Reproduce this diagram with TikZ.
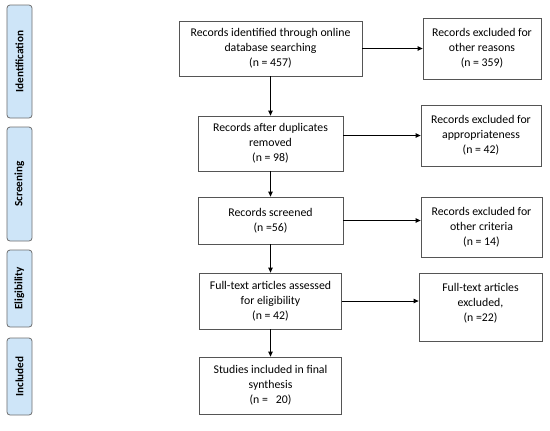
\documentclass[tikz,border=0pt]{standalone}
\usepackage{fontspec}
\setmainfont{Carlito}
\usetikzlibrary{arrows.meta}
\definecolor{phaseblue}{RGB}{206,229,248}
\definecolor{boxgray}{RGB}{85,85,85}

\begin{document}
\begin{tikzpicture}[x=1bp,y=-1bp,
				every node/.style={font=\fontsize{11.8bp}{15bp}\selectfont},
				box/.style={draw=boxgray,line width=0.8bp,align=center,inner sep=2bp},
				phase/.style={draw=boxgray!85,fill=phaseblue,rounded corners=3bp,rotate=90,
					minimum height=25bp,line width=0.8bp,font=\fontsize{11.2bp}{12bp}\selectfont\bfseries},
				arr/.style={-{Triangle[length=5bp,width=4.5bp]},line width=0.8bp}]
				\useasboundingbox (0,0) rectangle (550,430);
				
				\node[phase,minimum width=113bp] (ident) at (19.5,61.5) {Identification};
				\node[phase,minimum width=114bp] (screen) at (19.5,184) {Screening};
				\node[phase,minimum width=77bp] (elig) at (19.5,288.5) {Eligibility};
				\node[phase,minimum width=77bp] (incl) at (19.5,376.5) {Included};
				
				\node[box,minimum width=183bp,minimum height=55bp] (b1) at (270.5,48.5) {Records identified through online\\ database searching\\ (n = 457)};
				\node[box,minimum width=145bp,minimum height=55bp] (b2) at (270.5,143.5) {Records after duplicates\\ removed\\ (n = 98)};
				\node[box,minimum width=145bp,minimum height=47bp] (b3) at (270.5,220.5) {Records screened\\ (n =56)};
				\node[box,minimum width=142bp,minimum height=56bp] (b4) at (270.5,301) {Full-text articles assessed\\ for eligibility\\ (n = 42)};
				\node[box,minimum width=142bp,minimum height=57bp] (b5) at (270.5,385.5) {Studies included in final\\ synthesis\\ (n = \ \ 20)};
				
				\node[box,minimum width=118bp,minimum height=61bp] (x1) at (482,48.5) {Records excluded for\\ other reasons\\ (n = 359)};
				\node[box,minimum width=120bp,minimum height=61bp] (x2) at (481,135.5) {Records excluded for\\ appropriateness\\ (n = 42)};
				\node[box,minimum width=121bp,minimum height=60bp] (x3) at (481.5,227) {Records excluded for\\ other criteria\\ (n = 14)};
				\node[box,minimum width=123bp,minimum height=68bp,text depth=9bp] (x4) at (480.5,307) {Full-text articles\\ excluded,\\ (n =22)};
				
				\draw[arr] (b1) -- (b2);
				\draw[arr] (b2) -- (b3);
				\draw[arr] (b3) -- (b4);
				\draw[arr] (b4) -- (b5);
				
				\draw[arr] (b1.east) -- (b1.east -| x1.west);
				\draw[arr] (x2.west -| b2.east) -- (x2.west);
				\draw[arr] (b3.east) -- (b3.east -| x3.west);
				\draw[arr] (b4.east) -- (b4.east -| x4.west);
			\end{tikzpicture}
\end{document}
